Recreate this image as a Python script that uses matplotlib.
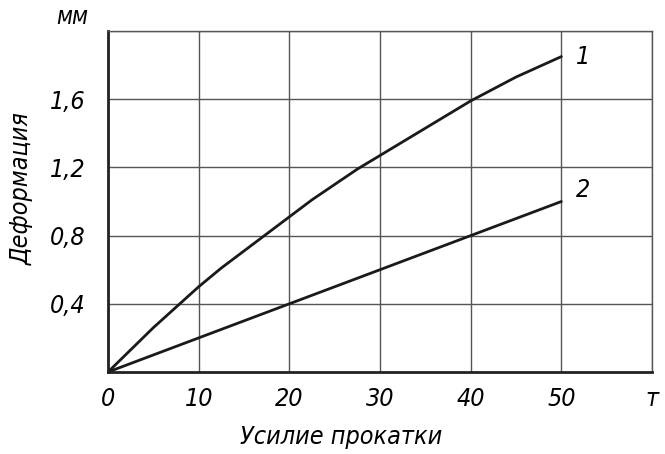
import matplotlib
matplotlib.use('Agg')
import matplotlib.pyplot as plt

# Усилие прокатки, т
force = [0, 2.5, 5, 7.5, 10, 12.5, 15, 17.5, 20, 22.5, 25, 27.5, 30,
         32.5, 35, 37.5, 40, 42.5, 45, 47.5, 50]
# Деформация, мм (кривая 1)
deform_1 = [0, 0.13, 0.26, 0.38, 0.50, 0.61, 0.71, 0.81, 0.91, 1.01, 1.10,
            1.19, 1.27, 1.35, 1.43, 1.51, 1.59, 1.66, 1.73, 1.79, 1.85]
# кривая 2 (прямая)
force_2 = [0, 50]
deform_2 = [0, 1.0]

x_ticks = [0, 10, 20, 30, 40, 50, 60]
x_labels = ['0', '10', '20', '30', '40', '50', 'т']
y_ticks = [0.4, 0.8, 1.2, 1.6]
y_labels = ['0,4', '0,8', '1,2', '1,6']

plt.rcParams['font.family'] = ['DejaVu Sans']
plt.rcParams['font.style'] = 'italic'
plt.rcParams['font.stretch'] = 'condensed'

fig = plt.figure(figsize=(6.65, 4.54), dpi=100)
ax = fig.add_axes([0.1624, 0.1806, 0.8181, 0.7511])

ax.plot(force, deform_1, color='#1a1a1a', lw=2.0, solid_capstyle='round',
        solid_joinstyle='round')
ax.plot(force_2, deform_2, color='#1a1a1a', lw=2.0, solid_capstyle='round')

ax.set_xlim(0, 60)
ax.set_ylim(0, 2.0)
ax.set_xticks(x_ticks)
ax.set_xticklabels(x_labels, fontsize=18)
ax.set_yticks(y_ticks)
ax.set_yticklabels(y_labels, fontsize=18)
ax.tick_params(axis='x', length=0, pad=11)
ax.tick_params(axis='y', length=0, pad=16)
ax.set_yticks([2.0], minor=True)
ax.tick_params(which='minor', length=0)
ax.grid(True, color='#555555', lw=1.0)
ax.grid(True, which='minor', axis='y', color='#555555', lw=1.0)

for side in ['top', 'right']:
    ax.spines[side].set_color('#555555')
    ax.spines[side].set_linewidth(1.0)
for side in ['left', 'bottom']:
    ax.spines[side].set_color('#222222')
    ax.spines[side].set_linewidth(2.0)

ax.text(52.4, 1.85, '1', fontsize=18, va='center', ha='center')
ax.text(52.4, 1.07, '2', fontsize=18, va='center', ha='center')
ax.text(-4.0, 2.01, 'мм', fontsize=17, va='bottom', ha='center', clip_on=False)

ax.set_xlabel('Усилие прокатки', fontsize=18, va='center')
ax.set_ylabel('Деформация', fontsize=18, va='center')
ax.xaxis.set_label_coords(0.428, -0.19)
ax.yaxis.set_label_coords(-0.158, 0.537)

fig.savefig('out.png', dpi=100)
